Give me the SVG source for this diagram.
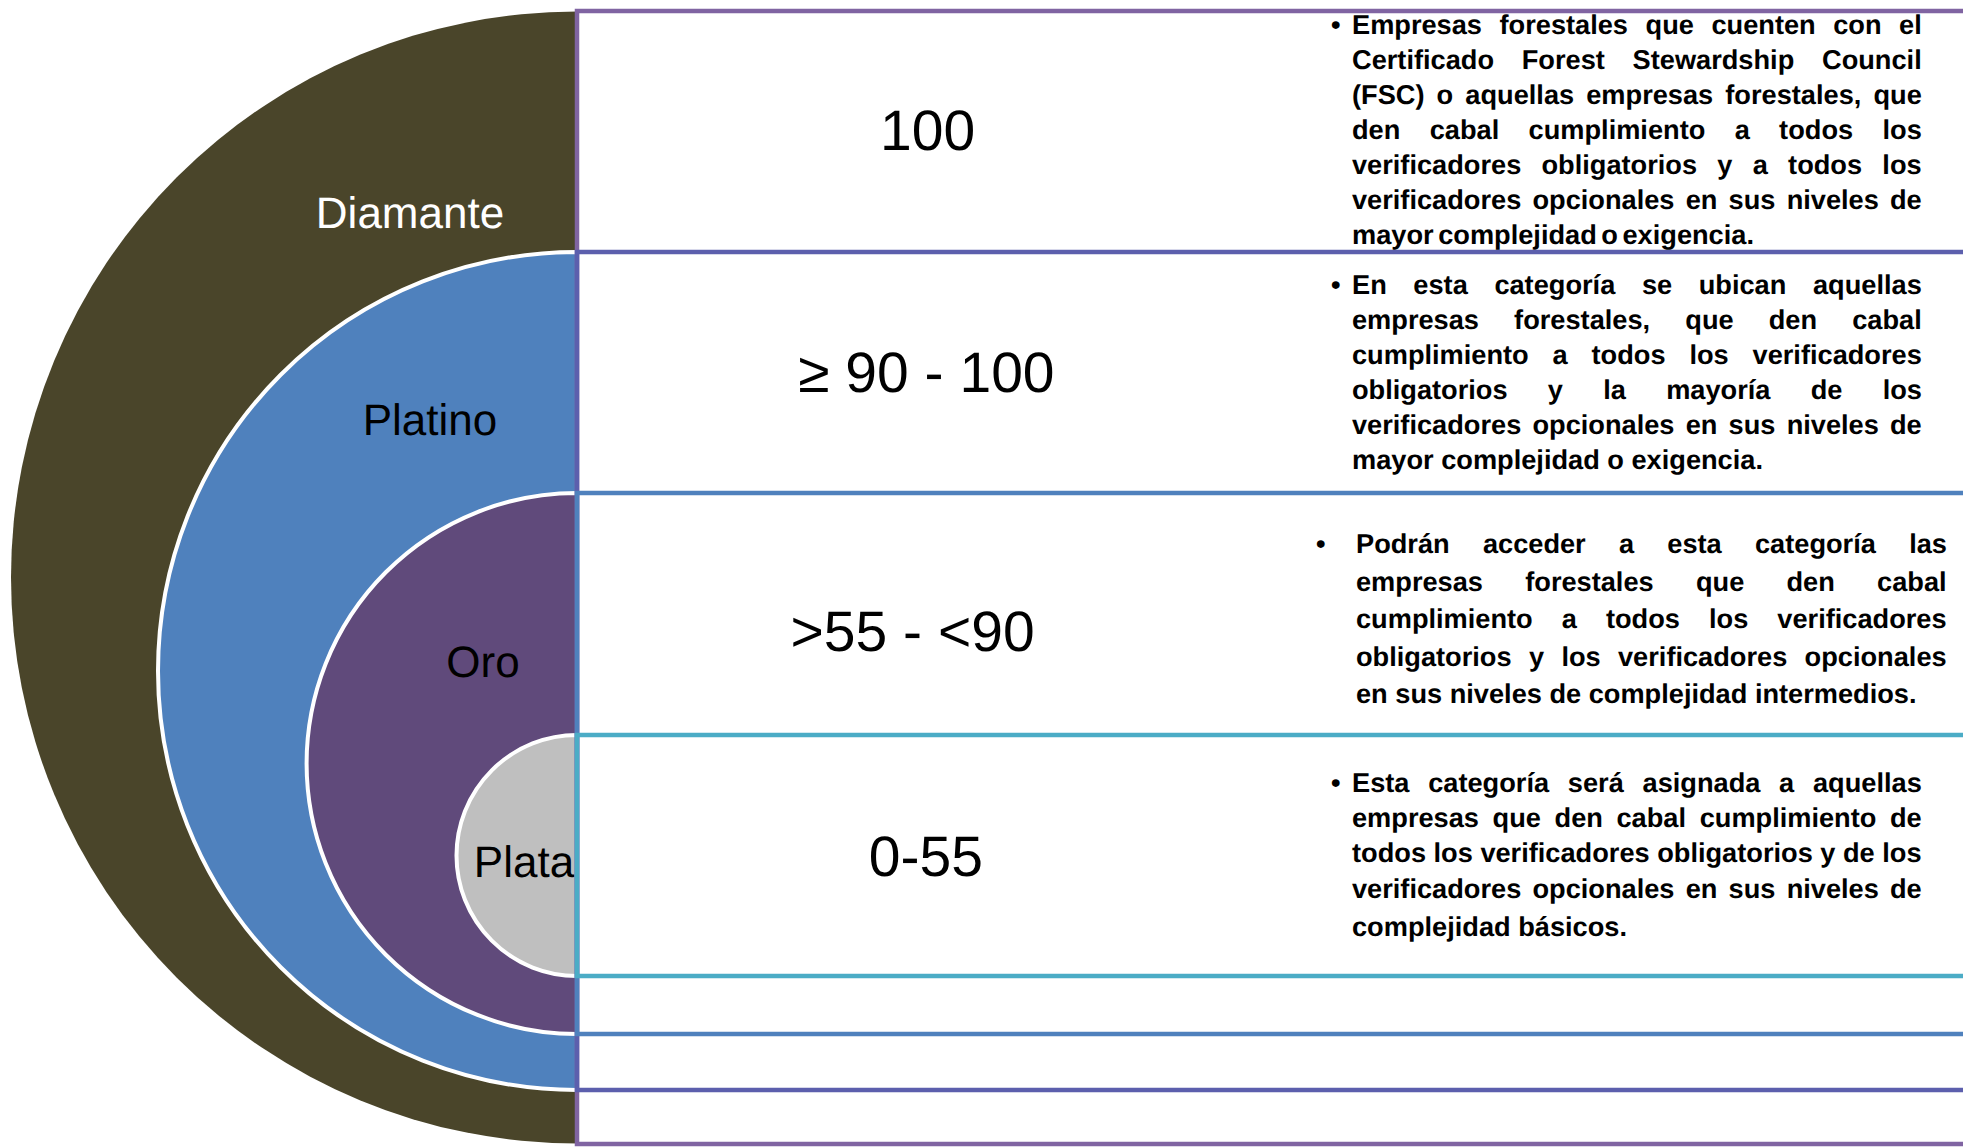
<svg xmlns="http://www.w3.org/2000/svg" width="1963" height="1147" viewBox="0 0 1963 1147">
<style>
  text { font-family: "Liberation Sans", Arial, sans-serif; font-kerning: none; text-rendering: geometricPrecision; }
  .body { font-weight: bold; font-size: 27.2px; fill: #000; }
  .num { font-size: 57px; text-anchor: middle; fill: #000; }
  .lbl { font-size: 44px; text-anchor: middle; fill: #000; }
  .ring { stroke: #fff; stroke-width: 4; }
  .row { fill: none; stroke-width: 4.5; }
</style>
<rect x="0" y="0" width="1963" height="1147" fill="#fff"/>
<g id="rings">
  <g id="diamante">
    <path d="M577,11.5 A566,566 0 0 0 577,1143.5 Z" fill="#4a452a"/>
    <text class="lbl" x="410" y="228" fill="#fff" style="fill:#fff">Diamante</text>
  </g>
  <g id="platino">
    <path class="ring" d="M577,252 A419,419 0 0 0 577,1090 Z" fill="#4f81bd"/>
    <text class="lbl" x="430" y="435">Platino</text>
  </g>
  <g id="oro">
    <path class="ring" d="M577,493 A270.5,270.5 0 0 0 577,1034 Z" fill="#604a7b"/>
    <text class="lbl" x="483" y="677">Oro</text>
  </g>
  <g id="plata">
    <path class="ring" d="M577,735 A120.5,120.5 0 0 0 577,976 Z" fill="#bfbfbf"/>
    <text class="lbl" x="524" y="877">Plata</text>
  </g>
</g>
<g id="connectors"></g>
<g id="rows">
  <g id="row-diamante">
    <path class="row" d="M1975,11 H577 V1144 H1975" stroke="#8064a2"/>
  </g>
  <g id="row-platino">
    <path class="row" d="M1975,252 H577 V1090 H1975" stroke="#5c5fad"/>
  </g>
  <g id="row-oro">
    <path class="row" d="M1975,493 H577 V1034 H1975" stroke="#4f81bd"/>
  </g>
  <g id="row-plata">
    <path class="row" d="M1975,735 H577 V976 H1975" stroke="#4bacc6"/>
  </g>
</g>
<g id="scores">
  <text class="num" x="927.6" y="150">100</text>
  <text class="num" x="926.4" y="392">≥ 90 - 100</text>
  <text class="num" x="912.6" y="651">&gt;55 - &lt;90</text>
  <text class="num" x="925.8" y="876">0-55</text>
</g>
<g id="desc-diamante" class="body">
  <text class="body" x="1331" y="34">•</text>
  <text class="body" x="1352" y="34" word-spacing="10.0">Empresas forestales que cuenten con el</text>
  <text class="body" x="1352" y="69" word-spacing="20.2">Certificado Forest Stewardship Council</text>
  <text class="body" x="1352" y="104" word-spacing="4.56">(FSC) o aquellas empresas forestales, que</text>
  <text class="body" x="1352" y="139" word-spacing="21.8">den cabal cumplimiento a todos los</text>
  <text class="body" x="1352" y="174" word-spacing="12.7">verificadores obligatorios y a todos los</text>
  <text class="body" x="1352" y="209" word-spacing="3.64">verificadores opcionales en sus niveles de</text>
  <text class="body" x="1352" y="244" word-spacing="-3">mayor complejidad o exigencia.</text>
</g>
<g id="desc-platino">
  <text class="body" x="1331" y="294">•</text>
  <text class="body" x="1352" y="294" word-spacing="19.06">En esta categoría se ubican aquellas</text>
  <text class="body" x="1352" y="329" word-spacing="27.6">empresas forestales, que den cabal</text>
  <text class="body" x="1352" y="364" word-spacing="16.3">cumplimiento a todos los verificadores</text>
  <text class="body" x="1352" y="399" word-spacing="32.7">obligatorios y la mayoría de los</text>
  <text class="body" x="1352" y="434" word-spacing="3.64">verificadores opcionales en sus niveles de</text>
  <text class="body" x="1352" y="469">mayor complejidad o exigencia.</text>
</g>
<g id="desc-oro">
  <text class="body" x="1316" y="553">•</text>
  <text class="body" x="1356" y="553" word-spacing="25.7">Podrán acceder a esta categoría las</text>
  <text class="body" x="1356" y="590.5" word-spacing="34.7">empresas forestales que den cabal</text>
  <text class="body" x="1356" y="628" word-spacing="21.5">cumplimiento a todos los verificadores</text>
  <text class="body" x="1356" y="665.5" word-spacing="9.79">obligatorios y los verificadores opcionales</text>
  <text class="body" x="1356" y="703">en sus niveles de complejidad intermedios.</text>
</g>
<g id="desc-plata">
  <text class="body" x="1331" y="792">•</text>
  <text class="body" x="1352" y="792" word-spacing="11.2">Esta categoría será asignada a aquellas</text>
  <text class="body" x="1352" y="827" word-spacing="6.07">empresas que den cabal cumplimiento de</text>
  <text class="body" x="1352" y="862">todos los verificadores obligatorios y de los</text>
  <text class="body" x="1352" y="898" word-spacing="3.64">verificadores opcionales en sus niveles de</text>
  <text class="body" x="1352" y="936">complejidad básicos.</text>
</g>
</svg>
